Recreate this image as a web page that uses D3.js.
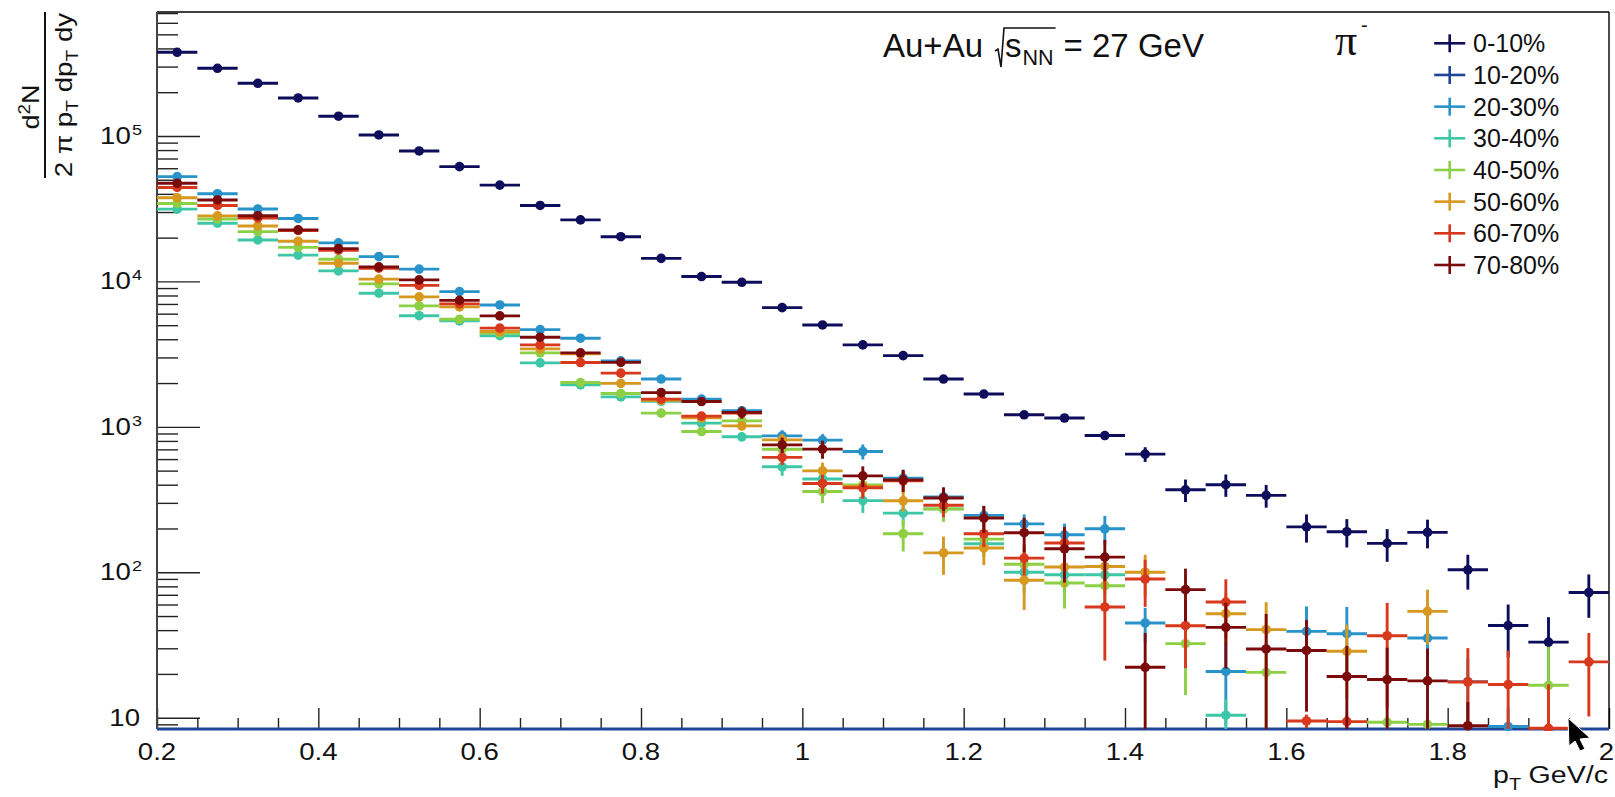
<!DOCTYPE html>
<html><head><meta charset="utf-8">
<script src="https://cdn.jsdelivr.net/npm/d3@7"></script>
<style>html,body{margin:0;padding:0;background:#fff;}svg{display:block;}</style>
</head><body>
<svg id="chart" width="1615" height="797"></svg>
<script>
// ---------------- DATA ----------------
const ptCenters = [0.225,0.275,0.325,0.375,0.425,0.475,0.525,0.575,0.625,0.675,0.725,0.775,0.825,0.875,0.925,0.975,1.025,1.075,1.125,1.175,1.225,1.275,1.325,1.375,1.425,1.475,1.525,1.575,1.625,1.675,1.725,1.775,1.825,1.875,1.925,1.975];
const binHalfWidth = 0.025;

const cent0_10 = [376200,292000,230300,182500,136800,101600,78860,61520,45900,33290,26470,20290,14400,10800,9860,6600,5020,3660,3090,2130,1680,1210,1150,871,649,369,400,338,205,190,158,188,104,43,33.1,72.6];
const err0_10  = [0,0,0,0,0,0,0,0,0,0,0,0,0,0,0,0,80,60,60,50,45,40,40,60,75,65,70,60,45,42,40,42,28,17,16,24];

const cent10_20 = [0,0,0,0,0,0,0,0,0,0,0,0,0,0,0,0,0,0,0,0,0,0,0,0,0,0,0,0,0,0,0,0,0,0,0,0];
const err10_20  = [0,0,0,0,0,0,0,0,0,0,0,0,0,0,0,0,0,0,0,0,0,0,0,0,0,0,0,0,0,0,0,0,0,0,0,0];

const cent20_30 = [52500,40100,31500,27100,18400,14800,12150,8510,6890,4660,4070,2840,2130,1550,1290,867,810,676,444,330,246,215,181,199,44.8,null,20.8,null,39.2,37.8,null,35.3,17.7,8.7,null,null];
const err20_30  = [0,0,0,0,0,0,0,0,0,80,90,80,70,70,60,80,80,80,60,50,40,35,35,45,12,0,12,0,19,20,0,18,8,3,0,0];

const cent30_40 = [31400,25120,19280,15170,11810,8296,5812,5352,4234,2754,1944,1608,1497,1060,854,531,438,311,255,273,157,100,96.1,96.1,null,null,10.4,null,null,null,null,null,null,null,null,null];
const err30_40  = [0,0,0,0,0,0,0,0,0,60,50,50,50,50,60,70,60,55,45,45,30,28,25,25,0,0,3,0,0,0,0,0,0,0,0,0];

const cent40_50 = [34370,26890,21990,17130,14210,9612,6785,5498,4406,3226,2016,1694,1242,928,1099,701,359,399,184,272,169,113.5,84.3,80.8,null,32.3,null,20.5,null,null,9.3,9.0,null,null,16.7,null];
const err40_50  = [0,0,0,0,0,0,0,0,0,60,60,60,50,60,60,70,60,60,45,50,35,30,28,25,0,18,0,12,0,0,1,1,0,0,14,0];

const cent50_60 = [37620,28200,24070,18890,13340,10370,7826,6678,4519,3437,3175,1991,1521,1153,1016,814,498,389,310,136,147,88.1,108.6,109.6,100,null,51.9,40.3,null,28.6,null,53.8,null,null,null,null];
const err50_60  = [0,0,0,0,0,0,0,0,0,0,100,70,60,60,70,80,70,60,50,40,35,33,30,30,32,0,20,22,0,15,0,22,0,0,0,0];

const cent60_70 = [44260,33290,27320,22410,16390,12320,9387,7004,4770,3660,2766,2339,1550,1185,1242,617,408,381,425,289,184,125,159,57.7,89.8,42.9,62.4,null,9.5,9.4,36.6,null,17.6,16.9,8.45,24.2];
const err60_70  = [0,0,0,0,0,0,0,0,0,80,100,80,70,70,90,70,60,60,70,50,35,30,40,33,32,21,27,0,1,1,25,0,12.5,12,8.5,14];

const cent70_80 = [47300,36300,28300,22600,16800,12580,10240,7400,5790,4135,3226,2775,1720,1492,1258,752,703,460,432,324,236,187,145,127,22.2,75.9,41.8,29.7,29.0,19.2,18.3,17.9,8.8,null,null,null];
const err70_80  = [0,0,0,0,0,0,0,0,0,100,130,110,90,100,120,90,100,75,75,60,50,50,60,40,16,30,20,22,18,12,12,12,4,0,0,0];

const seriesNames  = ['0-10%','10-20%','20-30%','30-40%','40-50%','50-60%','60-70%','70-80%'];
const seriesColors = ['#0d0d5c','#1f4596','#2893c9','#3ec7a6','#8dcf45','#d6981f','#d8381c','#7b0b0b'];

const xTickValues = [0.2,0.4,0.6,0.8,1.0,1.2,1.4,1.6,1.8,2.0];
const xTickLabels = ['0.2','0.4','0.6','0.8','1','1.2','1.4','1.6','1.8','2'];
const yTickValues = [10,100,1000,10000,100000];
const yTickBase   = ['10','10','10','10','10'];
const yTickExp    = ['','2','3','4','5'];

// ---------------- LAYOUT ----------------
const W = 1615, H = 797;
const L = 157, R = 1609, T = 12, B = 729;
const yMin = 8.36, yMax = 7.12e5;
const SANS = "'Liberation Sans', Arial, Helvetica, sans-serif";

const x = d3.scaleLinear().domain([0.2, 2.0]).range([L, R]);
const y = d3.scaleLog().domain([yMin, yMax]).range([B, T]).clamp(true);

const svg = d3.select('#chart');
svg.append('rect').attr('width', W).attr('height', H).attr('fill', '#fff');
svg.append('defs').append('clipPath').attr('id', 'clip')
  .append('rect').attr('x', L).attr('y', T).attr('width', R - L).attr('height', B - T + 2);

// ---------------- AXES ----------------
const yMajor = d3.axisLeft(y).tickValues(yTickValues).tickSizeInner(-43).tickSizeOuter(0).tickFormat('');
const yMinorVals = y.ticks().filter(v => !yTickValues.includes(v) && Math.abs(Math.log10(v) - Math.round(Math.log10(v))) > 1e-6);
const yMinor = d3.axisLeft(y).tickValues(yMinorVals).tickSizeInner(-21).tickSizeOuter(0).tickFormat('');
const xMinorVals = d3.range(0.25, 2.0, 0.05).filter(v => !xTickValues.some(t => Math.abs(t - v) < 1e-6));
const xMajor = d3.axisBottom(x).tickValues(xTickValues).tickSizeInner(-21).tickSizeOuter(0).tickFormat('');
const xMinor = d3.axisBottom(x).tickValues(xMinorVals).tickSizeInner(-11).tickSizeOuter(0).tickFormat('');

[[yMajor, `translate(${L},0)`], [yMinor, `translate(${L},0)`], [xMajor, `translate(0,${B})`], [xMinor, `translate(0,${B})`]].forEach(([ax, tr]) => {
  const g = svg.append('g').attr('transform', tr).call(ax);
  g.select('.domain').remove();
  g.selectAll('line').attr('stroke', '#222').attr('stroke-width', 1.4);
});

// frame
svg.append('line').attr('x1', L).attr('x2', R).attr('y1', T).attr('y2', T).attr('stroke', '#000').attr('stroke-width', 1.6);
svg.append('line').attr('x1', R).attr('x2', R).attr('y1', T).attr('y2', B).attr('stroke', '#000').attr('stroke-width', 1.4);
svg.append('line').attr('x1', L).attr('x2', R).attr('y1', B).attr('y2', B).attr('stroke', '#000').attr('stroke-width', 1.4);
svg.append('line').attr('x1', L).attr('x2', L).attr('y1', T).attr('y2', B).attr('stroke', '#444').attr('stroke-width', 2);

// tick labels
xTickValues.forEach((v, i) => {
  const last = i === xTickValues.length - 1;
  svg.append('text').attr('transform', `translate(${last ? W - 1 : x(v)},760) scale(1.2,1)`)
    .attr('text-anchor', last ? 'end' : 'middle').style('font-family', SANS).style('font-size', '23px').attr('fill', '#111')
    .text(xTickLabels[i]);
});
yTickValues.forEach((v, i) => {
  const t = svg.append('text').attr('transform', `translate(${yTickExp[i] ? 142 : 140},${y(v) + 8}) scale(1.2,1)`)
    .attr('text-anchor', 'end').style('font-family', SANS).style('font-size', '23px').attr('fill', '#111');
  t.append('tspan').text(yTickBase[i]);
  if (yTickExp[i]) t.append('tspan').attr('dy', -9).attr('dx', 1).style('font-size', '15px').text(yTickExp[i]);
});

// ---------------- DATA MARKS ----------------
const allVals = [cent0_10, cent10_20, cent20_30, cent30_40, cent40_50, cent50_60, cent60_70, cent70_80];
const allErrs = [err0_10, err10_20, err20_30, err30_40, err40_50, err50_60, err60_70, err70_80];
const plot = svg.append('g').attr('clip-path', 'url(#clip)');
const yPos = v => v > 0 ? y(v) : y(yMin);

allVals.forEach((vals, si) => {
  const col = seriesColors[si];
  const pts = ptCenters.map((p, i) => ({ p, v: vals[i], e: allErrs[si][i] })).filter(d => d.v !== null);
  const g = plot.append('g');
  g.selectAll('line.h').data(pts).join('line').attr('class', 'h')
    .attr('x1', d => x(d.p - binHalfWidth)).attr('x2', d => x(d.p + binHalfWidth))
    .attr('y1', d => yPos(d.v)).attr('y2', d => yPos(d.v))
    .attr('stroke', col).attr('stroke-width', 2.9);
  g.selectAll('line.v').data(pts.filter(d => d.v > 0 && d.e > 0)).join('line').attr('class', 'v')
    .attr('x1', d => x(d.p)).attr('x2', d => x(d.p))
    .attr('y1', d => y(d.v + d.e)).attr('y2', d => y(Math.max(d.v - d.e, 1e-3)))
    .attr('stroke', col).attr('stroke-width', 2.9);
  g.selectAll('circle').data(pts.filter(d => d.v > 0)).join('circle')
    .attr('cx', d => x(d.p)).attr('cy', d => y(d.v)).attr('r', 4.8).attr('fill', col);
});

// ---------------- LEGEND ----------------
seriesNames.forEach((name, i) => {
  const cy = 43.3 + i * 31.67, cx = 1449.7;
  svg.append('line').attr('x1', cx - 15.5).attr('x2', cx + 15.5).attr('y1', cy).attr('y2', cy).attr('stroke', seriesColors[i]).attr('stroke-width', 2.6);
  svg.append('line').attr('x1', cx).attr('x2', cx).attr('y1', cy - 9).attr('y2', cy + 9).attr('stroke', seriesColors[i]).attr('stroke-width', 2.6);
  svg.append('text').attr('x', 1473).attr('y', cy + 9).style('font-family', SANS).style('font-size', '25px').attr('fill', '#111').text(name);
});

// ---------------- TITLE ----------------
const tFont = 33;
const t1 = svg.append('text').attr('x', 883).attr('y', 57).style('font-family', SANS).style('font-size', tFont + 'px').attr('fill', '#111').text('Au+Au');
const t1end = 883 + t1.node().getComputedTextLength();
const rx = t1end + 12;
const ts = svg.append('text').attr('x', rx + 10).attr('y', 57).style('font-family', SANS).style('font-size', tFont + 'px').attr('fill', '#111').text('s');
const sEnd = rx + 10 + ts.node().getComputedTextLength();
const tnn = svg.append('text').attr('x', sEnd + 1).attr('y', 65).style('font-family', SANS).style('font-size', '21.5px').attr('fill', '#111').text('NN');
const nnEnd = sEnd + 1 + tnn.node().getComputedTextLength();
svg.append('path').attr('d', `M${rx},51 L${rx + 3},49 L${rx + 6},67 L${rx + 9},28 L${nnEnd + 2},28`)
  .attr('fill', 'none').attr('stroke', '#111').attr('stroke-width', 1.6);
svg.append('text').attr('x', nnEnd + 10).attr('y', 57).style('font-family', SANS).style('font-size', tFont + 'px').attr('fill', '#111').text('= 27 GeV');

// pi-
svg.append('text').attr('x', 1335).attr('y', 55).style('font-family', "'Liberation Serif', 'DejaVu Serif', serif").style('font-size', '44px').attr('fill', '#111').text('π');
svg.append('text').attr('x', 1361).attr('y', 32).style('font-family', SANS).style('font-size', '20px').attr('fill', '#111').text('-');

// ---------------- AXIS TITLES ----------------
function fitText(sel, targetW, tr) {
  const w = sel.node().getBBox().width;
  sel.attr('transform', `${tr} scale(${targetW / w},1)`);
}
// y title
svg.append('line').attr('x1', 45).attr('x2', 45).attr('y1', 12).attr('y2', 178).attr('stroke', '#111').attr('stroke-width', 2);
const num = svg.append('text').attr('text-anchor', 'middle').style('font-family', SANS).style('font-size', '23px').attr('fill', '#111');
num.append('tspan').text('d');
num.append('tspan').attr('dy', -9).style('font-size', '16px').text('2');
num.append('tspan').attr('dy', 9).text('N');
fitText(num, 45, 'translate(39,107) rotate(-90)');
const den = svg.append('text').attr('text-anchor', 'middle').style('font-family', SANS).style('font-size', '23px').attr('fill', '#111');
den.append('tspan').text('2 π p');
den.append('tspan').attr('dy', 6).style('font-size', '16px').text('T');
den.append('tspan').attr('dy', -6).text(' dp');
den.append('tspan').attr('dy', 6).style('font-size', '16px').text('T');
den.append('tspan').attr('dy', -6).text(' dy');
fitText(den, 165, 'translate(72,95) rotate(-90)');

// x title
const xt = svg.append('text').attr('text-anchor', 'end').style('font-family', SANS).style('font-size', '23px').attr('fill', '#111');
xt.append('tspan').text('p');
xt.append('tspan').attr('dy', 7).style('font-size', '16px').text('T');
xt.append('tspan').attr('dy', -7).attr('dx', 6).text('GeV/c');
fitText(xt, 115, 'translate(1608,783)');

// mouse pointer seen in the screenshot
svg.append('path').attr('d', 'M1568,718 L1590,738 L1580,739 L1585,749 L1580,751 L1575,741 L1569,746 Z')
  .attr('fill', '#000').attr('stroke', '#fff').attr('stroke-width', 1);
</script>
</body></html>
